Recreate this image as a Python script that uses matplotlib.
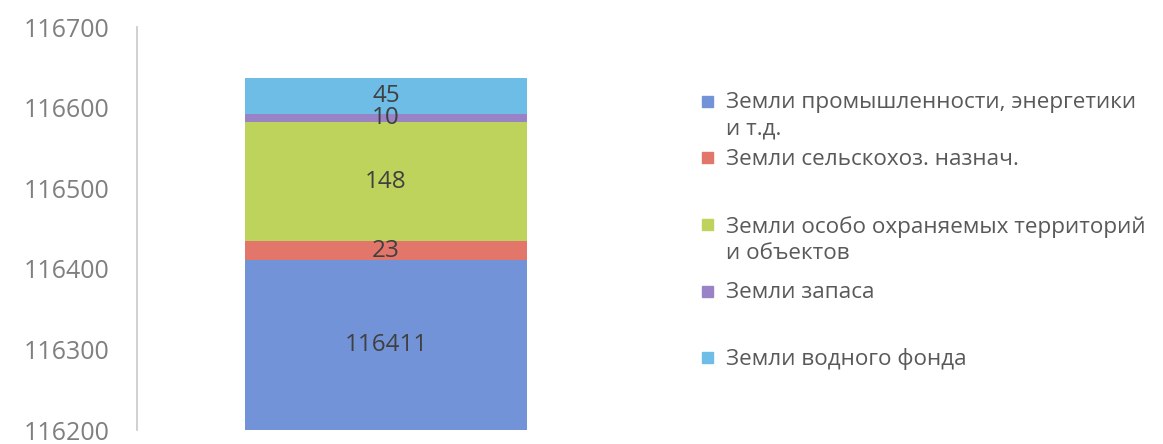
import matplotlib.pyplot as plt
from matplotlib.patches import Rectangle

# ===================== DATA =====================
categories = ["Земли промышленности, энергетики\nи т.д.",
              "Земли сельскохоз. назнач.",
              "Земли особо охраняемых территорий\nи объектов",
              "Земли запаса",
              "Земли водного фонда"]
values = [116411, 23, 148, 10, 45]
colors = ["#7393D9", "#E2766B", "#BDD35C", "#9A82C6", "#6DBDE6"]
y_ticks = [116200, 116300, 116400, 116500, 116600, 116700]

plt.rcParams['font.family'] = ['Open Sans', 'DejaVu Sans']

fig = plt.figure(figsize=(11.63, 4.44), dpi=100)
ax = fig.add_axes([137 / 1163, 1 - 430 / 444, (635 - 137) / 1163, (430 - 27) / 444])

ymin, ymax = y_ticks[0], y_ticks[-1]
bottom = 0
for val, col in zip(values, colors):
    ax.bar(0, val, bottom=bottom, width=0.566, color=col, zorder=2)
    lo = max(bottom, ymin)
    hi = bottom + val
    ax.text(0, (lo + hi) / 2, str(val), ha='center', va='center',
            fontsize=17.5, color='#404040', zorder=3)
    bottom += val

ax.set_xlim(-0.5, 0.5)
ax.set_ylim(ymin, ymax)
ax.set_yticks(y_ticks)
ax.set_yticklabels([str(t) for t in y_ticks], fontsize=18, color='#7F7F7F')
ax.tick_params(axis='y', length=0, pad=20)
ax.set_xticks([])
for side in ['top', 'right', 'bottom']:
    ax.spines[side].set_visible(False)
ax.spines['left'].set_color('#C8C8C8')
ax.spines['left'].set_linewidth(1.2)

# ===================== LEGEND (manual) =====================
legend_y = [101, 158, 225, 291, 357]  # top-line centres in pixels
for lab, col, yp in zip(categories, colors, legend_y):
    yf = 1 - yp / 444
    fig.patches.append(Rectangle((702 / 1163, yf - 5.5 / 444), 11 / 1163, 11 / 444,
                                 transform=fig.transFigure, color=col))
    fig.text(726 / 1163, yf + 9 / 444, lab, ha='left', va='top',
             fontsize=16.2, color='#595959', linespacing=1.32)

fig.savefig("out.png", dpi=100)
